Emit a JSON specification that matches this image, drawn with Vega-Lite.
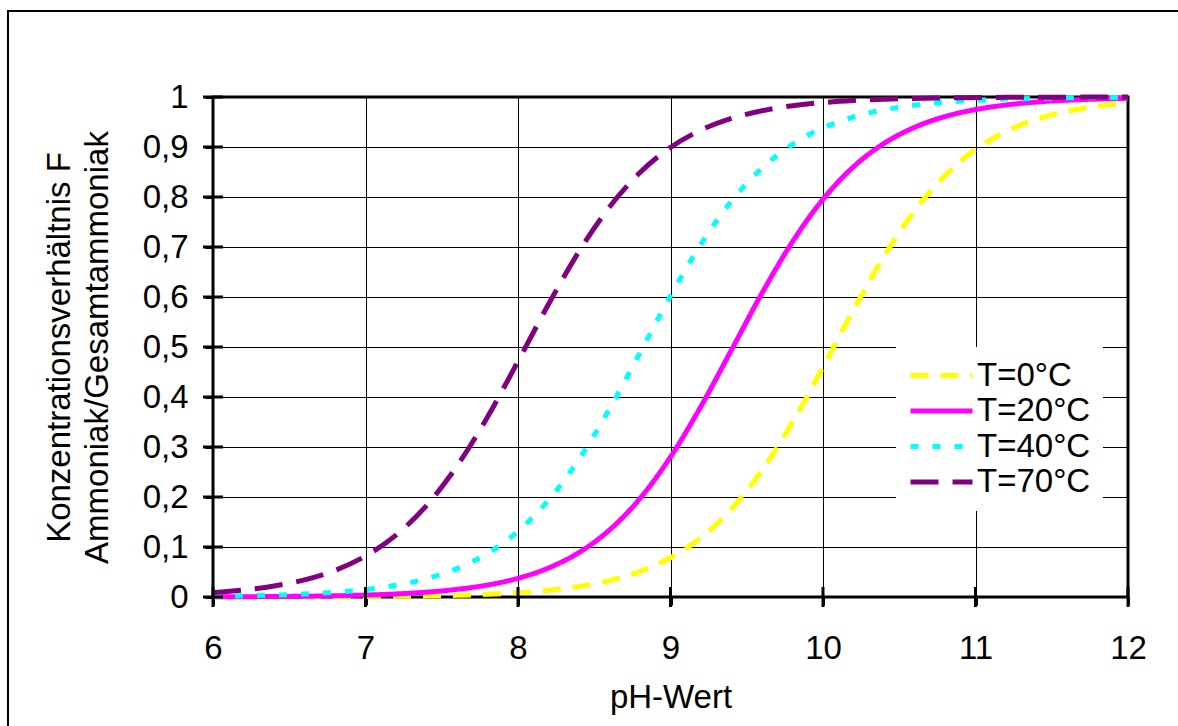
{
  "$schema": "https://vega.github.io/schema/vega-lite/v6.json",
  "autosize": "none",
  "width": 915,
  "height": 500,
  "padding": {"left": 213, "top": 97, "right": 50, "bottom": 129},
  "background": "#ffffff",
  "config": {
    "font": "Liberation Sans",
    "view": {"stroke": "#000000", "strokeWidth": 3},
    "axis": {
      "labelFont": "Liberation Sans",
      "titleFont": "Liberation Sans",
      "labelFontSize": 33,
      "titleFontSize": 33,
      "titleFontWeight": "normal",
      "labelColor": "#000000",
      "titleColor": "#000000",
      "labelFlush": false,
      "grid": true,
      "gridColor": "#000000",
      "gridWidth": 1,
      "gridOpacity": 1,
      "domain": false,
      "ticks": true,
      "tickSize": 8,
      "tickWidth": 3,
      "tickColor": "#000000"
    },
    "legend": {
      "labelFont": "Liberation Sans",
      "labelFontSize": 33,
      "labelColor": "#000000"
    }
  },
  "layer": [
    {
      "data": {"name": "curves", "values": [
        {"pH": 6.0, "T": "T=0°C", "F": 0.0001}, {"pH": 6.2, "T": "T=0°C", "F": 0.0001}, {"pH": 6.4, "T": "T=0°C", "F": 0.0002}, {"pH": 6.6, "T": "T=0°C", "F": 0.0003}, {"pH": 6.8, "T": "T=0°C", "F": 0.0005}, {"pH": 7.0, "T": "T=0°C", "F": 0.0009}, {"pH": 7.2, "T": "T=0°C", "F": 0.0013}, {"pH": 7.4, "T": "T=0°C", "F": 0.0021}, {"pH": 7.6, "T": "T=0°C", "F": 0.0034}, {"pH": 7.8, "T": "T=0°C", "F": 0.0053}, {"pH": 8.0, "T": "T=0°C", "F": 0.0084}, {"pH": 8.2, "T": "T=0°C", "F": 0.0133}, {"pH": 8.4, "T": "T=0°C", "F": 0.0209}, {"pH": 8.6, "T": "T=0°C", "F": 0.0328}, {"pH": 8.8, "T": "T=0°C", "F": 0.051}, {"pH": 9.0, "T": "T=0°C", "F": 0.0784}, {"pH": 9.2, "T": "T=0°C", "F": 0.1189}, {"pH": 9.4, "T": "T=0°C", "F": 0.1761}, {"pH": 9.6, "T": "T=0°C", "F": 0.2531}, {"pH": 9.8, "T": "T=0°C", "F": 0.3494}, {"pH": 10.0, "T": "T=0°C", "F": 0.4598}, {"pH": 10.2, "T": "T=0°C", "F": 0.5743}, {"pH": 10.4, "T": "T=0°C", "F": 0.6813}, {"pH": 10.6, "T": "T=0°C", "F": 0.7721}, {"pH": 10.8, "T": "T=0°C", "F": 0.843}, {"pH": 11.0, "T": "T=0°C", "F": 0.8949}, {"pH": 11.2, "T": "T=0°C", "F": 0.931}, {"pH": 11.4, "T": "T=0°C", "F": 0.9553}, {"pH": 11.6, "T": "T=0°C", "F": 0.9713}, {"pH": 11.8, "T": "T=0°C", "F": 0.9817}, {"pH": 12.0, "T": "T=0°C", "F": 0.9884},
        {"pH": 6.0, "T": "T=20°C", "F": 0.0004}, {"pH": 6.2, "T": "T=20°C", "F": 0.0006}, {"pH": 6.4, "T": "T=20°C", "F": 0.001}, {"pH": 6.6, "T": "T=20°C", "F": 0.0015}, {"pH": 6.8, "T": "T=20°C", "F": 0.0024}, {"pH": 7.0, "T": "T=20°C", "F": 0.0039}, {"pH": 7.2, "T": "T=20°C", "F": 0.0061}, {"pH": 7.4, "T": "T=20°C", "F": 0.0097}, {"pH": 7.6, "T": "T=20°C", "F": 0.0153}, {"pH": 7.8, "T": "T=20°C", "F": 0.024}, {"pH": 8.0, "T": "T=20°C", "F": 0.0375}, {"pH": 8.2, "T": "T=20°C", "F": 0.0581}, {"pH": 8.4, "T": "T=20°C", "F": 0.089}, {"pH": 8.6, "T": "T=20°C", "F": 0.1341}, {"pH": 8.8, "T": "T=20°C", "F": 0.1971}, {"pH": 9.0, "T": "T=20°C", "F": 0.2801}, {"pH": 9.2, "T": "T=20°C", "F": 0.3814}, {"pH": 9.4, "T": "T=20°C", "F": 0.4942}, {"pH": 9.6, "T": "T=20°C", "F": 0.6077}, {"pH": 9.8, "T": "T=20°C", "F": 0.7105}, {"pH": 10.0, "T": "T=20°C", "F": 0.7955}, {"pH": 10.2, "T": "T=20°C", "F": 0.8604}, {"pH": 10.4, "T": "T=20°C", "F": 0.9072}, {"pH": 10.6, "T": "T=20°C", "F": 0.9393}, {"pH": 10.8, "T": "T=20°C", "F": 0.9609}, {"pH": 11.0, "T": "T=20°C", "F": 0.9749}, {"pH": 11.2, "T": "T=20°C", "F": 0.984}, {"pH": 11.4, "T": "T=20°C", "F": 0.9899}, {"pH": 11.6, "T": "T=20°C", "F": 0.9936}, {"pH": 11.8, "T": "T=20°C", "F": 0.9959}, {"pH": 12.0, "T": "T=20°C", "F": 0.9974},
        {"pH": 6.0, "T": "T=40°C", "F": 0.0015}, {"pH": 6.2, "T": "T=40°C", "F": 0.0024}, {"pH": 6.4, "T": "T=40°C", "F": 0.0038}, {"pH": 6.6, "T": "T=40°C", "F": 0.006}, {"pH": 6.8, "T": "T=40°C", "F": 0.0095}, {"pH": 7.0, "T": "T=40°C", "F": 0.0149}, {"pH": 7.2, "T": "T=40°C", "F": 0.0234}, {"pH": 7.4, "T": "T=40°C", "F": 0.0366}, {"pH": 7.6, "T": "T=40°C", "F": 0.0568}, {"pH": 7.8, "T": "T=40°C", "F": 0.0872}, {"pH": 8.0, "T": "T=40°C", "F": 0.1315}, {"pH": 8.2, "T": "T=40°C", "F": 0.1935}, {"pH": 8.4, "T": "T=40°C", "F": 0.2755}, {"pH": 8.6, "T": "T=40°C", "F": 0.376}, {"pH": 8.8, "T": "T=40°C", "F": 0.4885}, {"pH": 9.0, "T": "T=40°C", "F": 0.6021}, {"pH": 9.2, "T": "T=40°C", "F": 0.7058}, {"pH": 9.4, "T": "T=40°C", "F": 0.7918}, {"pH": 9.6, "T": "T=40°C", "F": 0.8577}, {"pH": 9.8, "T": "T=40°C", "F": 0.9052}, {"pH": 10.0, "T": "T=40°C", "F": 0.938}, {"pH": 10.2, "T": "T=40°C", "F": 0.96}, {"pH": 10.4, "T": "T=40°C", "F": 0.9744}, {"pH": 10.6, "T": "T=40°C", "F": 0.9837}, {"pH": 10.8, "T": "T=40°C", "F": 0.9896}, {"pH": 11.0, "T": "T=40°C", "F": 0.9934}, {"pH": 11.2, "T": "T=40°C", "F": 0.9958}, {"pH": 11.4, "T": "T=40°C", "F": 0.9974}, {"pH": 11.6, "T": "T=40°C", "F": 0.9983}, {"pH": 11.8, "T": "T=40°C", "F": 0.999}, {"pH": 12.0, "T": "T=40°C", "F": 0.9993},
        {"pH": 6.0, "T": "T=70°C", "F": 0.0088}, {"pH": 6.2, "T": "T=70°C", "F": 0.0139}, {"pH": 6.4, "T": "T=70°C", "F": 0.0219}, {"pH": 6.6, "T": "T=70°C", "F": 0.0343}, {"pH": 6.8, "T": "T=70°C", "F": 0.0532}, {"pH": 7.0, "T": "T=70°C", "F": 0.0818}, {"pH": 7.2, "T": "T=70°C", "F": 0.1238}, {"pH": 7.4, "T": "T=70°C", "F": 0.1829}, {"pH": 7.6, "T": "T=70°C", "F": 0.2619}, {"pH": 7.8, "T": "T=70°C", "F": 0.3599}, {"pH": 8.0, "T": "T=70°C", "F": 0.4713}, {"pH": 8.2, "T": "T=70°C", "F": 0.5855}, {"pH": 8.4, "T": "T=70°C", "F": 0.6912}, {"pH": 8.6, "T": "T=70°C", "F": 0.7801}, {"pH": 8.8, "T": "T=70°C", "F": 0.849}, {"pH": 9.0, "T": "T=70°C", "F": 0.8991}, {"pH": 9.2, "T": "T=70°C", "F": 0.9339}, {"pH": 9.4, "T": "T=70°C", "F": 0.9572}, {"pH": 9.6, "T": "T=70°C", "F": 0.9726}, {"pH": 9.8, "T": "T=70°C", "F": 0.9825}, {"pH": 10.0, "T": "T=70°C", "F": 0.9889}, {"pH": 10.2, "T": "T=70°C", "F": 0.993}, {"pH": 10.4, "T": "T=70°C", "F": 0.9956}, {"pH": 10.6, "T": "T=70°C", "F": 0.9972}, {"pH": 10.8, "T": "T=70°C", "F": 0.9982}, {"pH": 11.0, "T": "T=70°C", "F": 0.9989}, {"pH": 11.2, "T": "T=70°C", "F": 0.9993}, {"pH": 11.4, "T": "T=70°C", "F": 0.9996}, {"pH": 11.6, "T": "T=70°C", "F": 0.9997}, {"pH": 11.8, "T": "T=70°C", "F": 0.9998}, {"pH": 12.0, "T": "T=70°C", "F": 0.9999}
      ]},
      "mark": {"type": "line", "strokeWidth": 5, "interpolate": "monotone"},
      "encoding": {
        "x": {
          "field": "pH", "type": "quantitative",
          "scale": {"domain": [6, 12], "nice": false, "zero": false},
          "axis": {
            "title": "pH-Wert",
            "values": [6, 7, 8, 9, 10, 11, 12],
            "format": "d",
            "labelPadding": 27,
            "titlePadding": 16
          }
        },
        "y": {
          "field": "F", "type": "quantitative",
          "scale": {"domain": [0, 1], "nice": false},
          "axis": {
            "title": ["Konzentrationsverhältnis F", "Ammoniak/Gesamtammoniak"],
            "titleLineHeight": 38,
            "values": [0, 0.1, 0.2, 0.3, 0.4, 0.5, 0.6, 0.7, 0.8, 0.9, 1],
            "format": ".1~f",
            "labelExpr": "replace(datum.label, '.', ',')",
            "labelPadding": 17,
            "titlePadding": 28
          }
        },
        "color": {
          "field": "T", "type": "nominal",
          "scale": {"domain": ["T=0°C", "T=20°C", "T=40°C", "T=70°C"], "range": ["#FFFF00", "#FF00FF", "#00FFFF", "#800080"]},
          "legend": {
            "title": null,
            "orient": "none",
            "legendX": 683,
            "legendY": 250,
            "fillColor": "#ffffff",
            "padding": 12,
            "symbolType": "stroke",
            "symbolSize": 3844,
            "symbolStrokeWidth": 5,
            "clipHeight": 33,
            "rowPadding": 1.5,
            "labelOffset": 2,
            "labelLimit": 300
          }
        },
        "strokeDash": {
          "field": "T", "type": "nominal",
          "scale": {"domain": ["T=0°C", "T=20°C", "T=40°C", "T=70°C"], "range": [[18, 12], [1, 0], [8, 14], [28, 14]]},
          "legend": {
            "title": null,
            "orient": "none",
            "legendX": 683,
            "legendY": 250,
            "fillColor": "#ffffff",
            "padding": 12,
            "symbolType": "stroke",
            "symbolSize": 3844,
            "symbolStrokeWidth": 5,
            "clipHeight": 33,
            "rowPadding": 1.5,
            "labelOffset": 2,
            "labelLimit": 300
          }
        }
      }
    },
    {
      "data": {"values": [{"v": 0}, {"v": 0.1}, {"v": 0.2}, {"v": 0.3}, {"v": 0.4}, {"v": 0.5}, {"v": 0.6}, {"v": 0.7}, {"v": 0.8}, {"v": 0.9}, {"v": 1}]},
      "mark": {"type": "tick", "orient": "horizontal", "size": 20, "thickness": 3, "color": "#000000", "opacity": 1},
      "encoding": {
        "x": {"datum": 6, "type": "quantitative"},
        "y": {"field": "v", "type": "quantitative"}
      }
    },
    {
      "data": {"values": [{"p": 6}, {"p": 7}, {"p": 8}, {"p": 9}, {"p": 10}, {"p": 11}, {"p": 12}]},
      "mark": {"type": "tick", "orient": "vertical", "size": 20, "thickness": 3, "color": "#000000", "opacity": 1},
      "encoding": {
        "x": {"field": "p", "type": "quantitative"},
        "y": {"datum": 0, "type": "quantitative"}
      }
    },
    {
      "data": {"values": [{}]},
      "mark": {"type": "rect", "fill": null, "filled": false, "stroke": "#000000", "strokeWidth": 2},
      "encoding": {
        "x": {"datum": 4.6557, "type": "quantitative"},
        "x2": {"datum": 12.6},
        "y": {"datum": 1.172, "type": "quantitative"},
        "y2": {"datum": -0.4}
      }
    }
  ]
}
